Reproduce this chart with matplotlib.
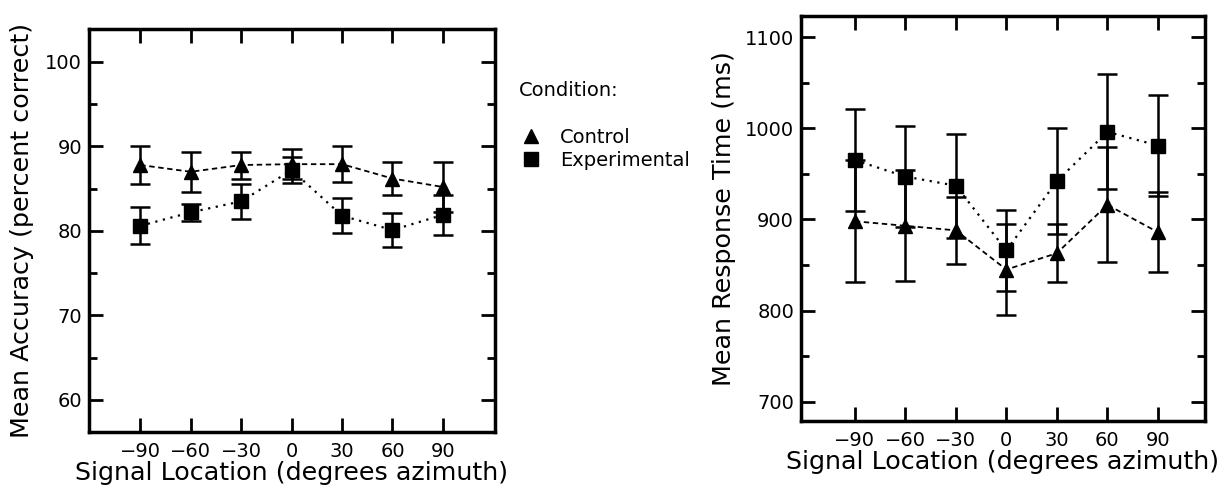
import matplotlib
matplotlib.use("Agg")
import matplotlib.pyplot as plt
from matplotlib.lines import Line2D
from matplotlib.ticker import MultipleLocator

# data
locations = [-90, -60, -30, 0, 30, 60, 90]

acc_control = [87.8, 87.0, 87.8, 87.9, 87.9, 86.2, 85.2]
acc_control_err = [2.2, 2.4, 1.6, 1.8, 2.1, 1.9, 3.0]
acc_exper = [80.6, 82.2, 83.5, 87.2, 81.8, 80.1, 81.9]
acc_exper_err = [2.2, 1.0, 2.1, 1.5, 2.1, 2.0, 2.4]

rt_control = [898, 893, 888, 845, 863, 916, 886]
rt_control_err = [67, 61, 37, 50, 32, 63, 44]
rt_exper = [965, 947, 937, 866, 942, 996, 981]
rt_exper_err = [56, 55, 57, 44, 58, 63, 55]

plt.rcParams['font.family'] = ['DejaVu Sans']

fig = plt.figure(figsize=(12.26, 4.9), dpi=100)
ax1 = fig.add_axes([0.0726, 0.1184, 0.3312, 0.8224])
ax2 = fig.add_axes([0.6533, 0.1408, 0.3296, 0.8265])


def draw(ax, ctl, ctl_err, exp, exp_err):
    ax.errorbar(locations, ctl, yerr=ctl_err, color='black', linestyle=(0, (3, 2)),
                linewidth=1.3, marker='^', markersize=10, capsize=7, elinewidth=1.8,
                capthick=1.8, zorder=3)
    ax.errorbar(locations, exp, yerr=exp_err, color='black', linestyle=(0, (1, 2.5)),
                linewidth=1.6, marker='s', markersize=10, capsize=7, elinewidth=1.8,
                capthick=1.8, zorder=3)
    ax.set_xticks(locations)
    ax.set_xticklabels(['\u221290', '\u221260', '\u221230', '0', '30', '60', '90'])
    ax.tick_params(which='both', direction='in', top=True, right=True,
                   labelsize=14, width=2)
    ax.tick_params(which='major', length=10)
    ax.tick_params(which='minor', length=6)
    ax.tick_params(axis='x', pad=7)
    ax.tick_params(axis='y', pad=5)
    for s in ax.spines.values():
        s.set_linewidth(2.5)
    ax.set_xlabel('Signal Location (degrees azimuth)', fontsize=18.3, labelpad=0)


draw(ax1, acc_control, acc_control_err, acc_exper, acc_exper_err)
ax1.set_xlim(-120.5, 121)
ax1.set_ylim(56.2, 103.9)
ax1.set_yticks([60, 70, 80, 90, 100])
ax1.yaxis.set_minor_locator(MultipleLocator(5))
ax1.set_ylabel('Mean Accuracy (percent correct)', fontsize=18.3, labelpad=8)

draw(ax2, rt_control, rt_control_err, rt_exper, rt_exper_err)
ax2.set_xlim(-122, 118)
ax2.set_ylim(679, 1123)
ax2.set_yticks([700, 800, 900, 1000, 1100])
ax2.yaxis.set_minor_locator(MultipleLocator(50))
ax2.set_ylabel('Mean Response Time (ms)', fontsize=18.3, labelpad=6)

# legend between the panels
fig.text(0.423, 0.815, 'Condition:', fontsize=14, va='center', ha='left')
handles = [Line2D([], [], color='black', marker='^', linestyle='none', markersize=10),
           Line2D([], [], color='black', marker='s', linestyle='none', markersize=10)]
fig.legend(handles, ['Control', 'Experimental'], loc='upper left',
           bbox_to_anchor=(0.417, 0.755), frameon=False, fontsize=14,
           handlelength=1.2, handletextpad=0.9, labelspacing=0.22, borderaxespad=0)

fig.savefig('out.png', dpi=100)
